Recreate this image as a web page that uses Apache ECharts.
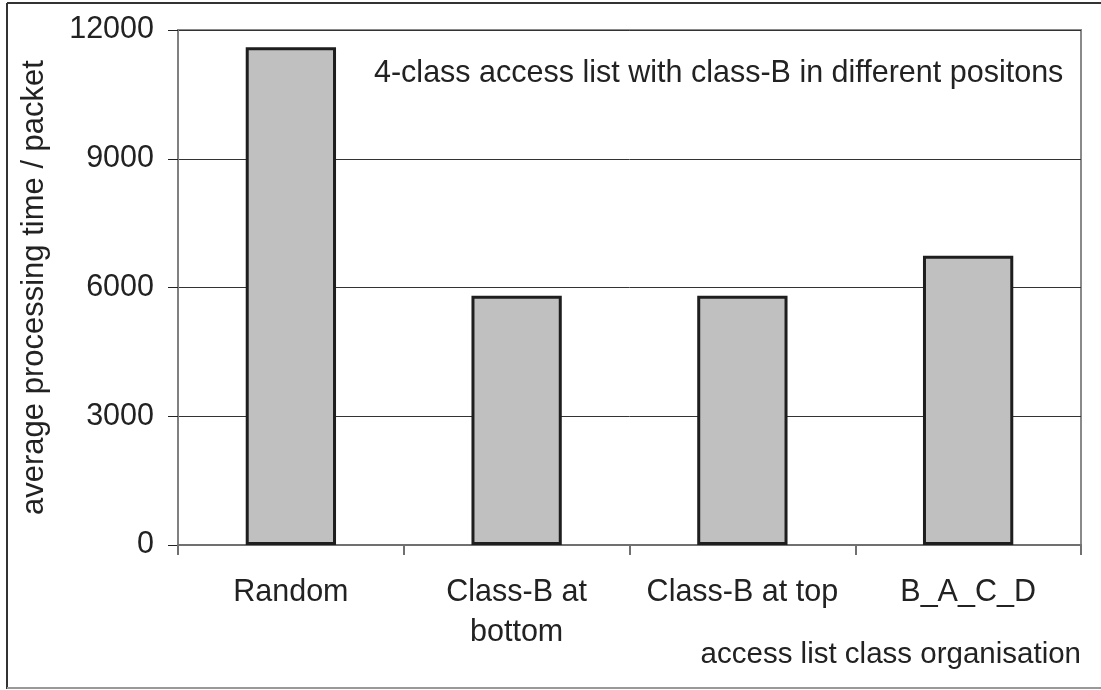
<!DOCTYPE html>
<html>
<head>
<meta charset="utf-8">
<script src="https://cdn.jsdelivr.net/npm/echarts@6/dist/echarts.min.js"></script>
<style>
  html, body { margin: 0; padding: 0; background: #fff; }
  #chart { width: 1101px; height: 690px; }
</style>
</head>
<body>
<div id="chart"></div>
<script>
// Access-list organisations and their average processing time per packet
const categories = ['Random', 'Class-B at\nbottom', 'Class-B at top', 'B_A_C_D'];
const avgTime = [11600, 5810, 5810, 6740];
const yTicks = { min: 0, max: 12000, interval: 3000 };

const FONT = '"Liberation Sans", Arial, sans-serif';
const FS = 30.5;
const chart = echarts.init(document.getElementById('chart'), null, { renderer: 'canvas' });

chart.setOption({
  backgroundColor: '#fff',
  animation: false,
  textStyle: { fontFamily: FONT },
  grid: {
    left: 178, right: 20, top: 30, bottom: 145,
    show: true, borderColor: '#8a8a8a', borderWidth: 2, backgroundColor: 'transparent'
  },
  xAxis: {
    type: 'category',
    data: categories,
    name: 'access list class organisation',
    nameLocation: 'end',
    nameGap: 0,
    nameTextStyle: {
      fontSize: 29.5, color: '#222', fontFamily: FONT,
      align: 'right', verticalAlign: 'top', padding: [95, 0, 0, 0]
    },
    axisLine: { lineStyle: { color: '#707070', width: 2 } },
    axisTick: { show: true, length: 10, alignWithLabel: false, lineStyle: { color: '#707070', width: 2 } },
    axisLabel: { fontSize: FS, color: '#222', fontFamily: FONT, margin: 28, lineHeight: 40, interval: 0 }
  },
  yAxis: {
    type: 'value',
    min: yTicks.min, max: yTicks.max, interval: yTicks.interval,
    name: 'average processing time / packet',
    nameLocation: 'middle',
    nameGap: 128,
    nameTextStyle: { fontSize: 31, color: '#222', fontFamily: FONT },
    axisLine: { show: true, lineStyle: { color: '#808080', width: 2 } },
    axisTick: { show: true, length: 10, lineStyle: { color: '#222', width: 1 } },
    axisLabel: {
      fontSize: FS, color: '#222', fontFamily: FONT, margin: 24,
      formatter: (v) => String(v)
    },
    splitLine: { show: true, lineStyle: { color: '#333', width: 1 } }
  },
  series: [{
    type: 'bar',
    data: avgTime,
    barCategoryGap: '60%',
    itemStyle: { color: '#c0c0c0', borderColor: '#1e1e1e', borderWidth: 3 },
    z: 3
  }],
  graphic: [
    {
      type: 'text', left: 374, top: 58, z: 10,
      style: {
        text: '4-class access list with class-B in different positons',
        font: FS + 'px ' + FONT, fill: '#222'
      }
    },
    // outer frame
    { type: 'line', z: 20, shape: { x1: 7, y1: 3, x2: 1101, y2: 3 }, style: { stroke: '#333', lineWidth: 2 } },
    { type: 'line', z: 20, shape: { x1: 7, y1: 3, x2: 7, y2: 689 }, style: { stroke: '#333', lineWidth: 2 } },
    { type: 'line', z: 20, shape: { x1: 7, y1: 688, x2: 1101, y2: 688 }, style: { stroke: '#999', lineWidth: 2 } }
  ]
});
</script>
</body>
</html>
